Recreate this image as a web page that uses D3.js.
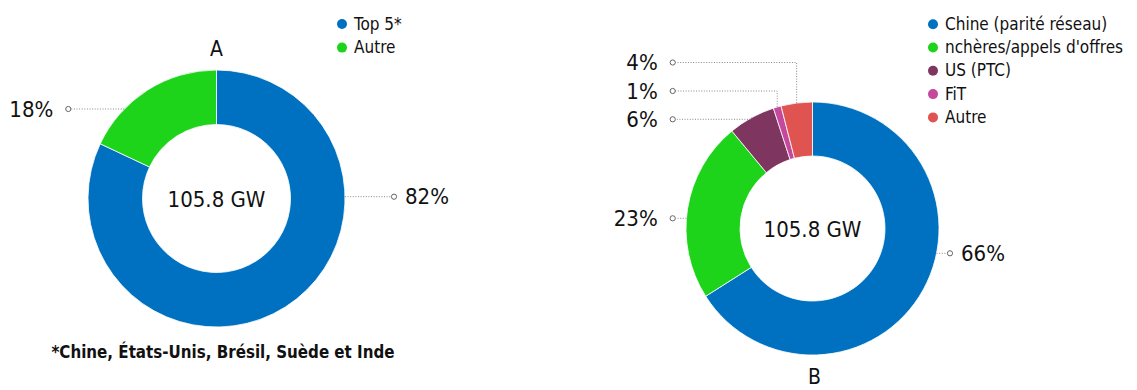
<!DOCTYPE html>
<html>
<head>
<meta charset="utf-8">
<script src="https://cdn.jsdelivr.net/npm/d3@7"></script>
<style>
  html, body { margin: 0; padding: 0; background: #fff; }
  svg { display: block; }
  text { font-family: "DejaVu Sans Condensed", "DejaVu Sans", sans-serif; font-stretch: condensed; fill: #111; }
</style>
</head>
<body>
<svg id="chart" width="1137" height="390"></svg>
<script>
// Donut A: share of capacity in the top-5 markets
const categoriesA = ["Top 5*", "Autre"];
const valuesA = [82, 18];
const colorsA = ["#0070C0", "#1ED41A"];

// Donut B: breakdown by support mechanism
const categoriesB = ["Chine (parité réseau)", "nchères/appels d'offres", "US (PTC)", "FiT", "Autre"];
const valuesB = [66, 23, 6, 1, 4];
const colorsB = ["#0070C0", "#1ED41A", "#7E3660", "#C4489C", "#DF5450"];

const totalLabel = "105.8 GW";
const titleA = "A";
const titleB = "B";
const footnoteA = "*Chine, États-Unis, Brésil, Suède et Inde";

// Layout of each donut and its callouts (offsets from the donut centre)
const layoutA = {
  cx: 216.5, cy: 198.5, outer: 128.5, inner: 74,
  title: { dx: 0, y: 56 },
  legend: { x: 342, y: 24, step: 23.6 },
  callouts: [
    { side: "right", mode: "edge", dx: 177.5, dy: -1.8 },
    { side: "left",  mode: "edge", dx: -148.2, dy: -89.5 }
  ]
};
const layoutB = {
  cx: 812.5, cy: 228.5, outer: 126.5, inner: 72.5,
  title: { dx: 2, y: 384 },
  legend: { x: 933, y: 24.2, step: 23.3 },
  callouts: [
    { side: "right", mode: "edge",  dx: 137.5, dy: 24.8 },
    { side: "left",  mode: "edge",  dx: -139.8, dy: -10.2 },
    { side: "left",  mode: "elbow", dx: -139.8, dy: -109.2 },
    { side: "left",  mode: "elbow", dx: -139.8, dy: -137.5 },
    { side: "left",  mode: "elbow", dx: -139.8, dy: -166 }
  ]
};

const svg = d3.select("#chart");

function drawDonut(categories, values, colors, layout, title) {
  const g = svg.append("g").attr("transform", `translate(${layout.cx},${layout.cy})`);

  const pie = d3.pie().sort(null).value(d => d)
    .startAngle(0).endAngle(2 * Math.PI);
  const arcs = pie(values);

  const arc = d3.arc().innerRadius(layout.inner).outerRadius(layout.outer);

  g.selectAll("path.slice")
    .data(arcs)
    .join("path")
    .attr("class", "slice")
    .attr("d", arc)
    .attr("fill", (d, i) => colors[i])
    .attr("stroke", "#fff")
    .attr("stroke-width", 0.8);

  // Total in the hole
  g.append("text")
    .attr("text-anchor", "middle")
    .attr("y", 8)
    .style("font-size", "22px")
    .text(totalLabel);

  // Callouts: dotted leader, small ring and percentage
  const R = layout.outer;
  arcs.forEach((a, i) => {
    const c = layout.callouts[i];
    const mid = (a.startAngle + a.endAngle) / 2;
    const ringR = 2.6;
    const ringX = c.dx;
    const ringY = c.dy;
    const endX = c.side === "right" ? ringX - ringR : ringX + ringR;
    let path;
    if (c.mode === "edge") {
      const ex = Math.sqrt(Math.max(R * R - ringY * ringY, 0)) * (c.side === "right" ? 1 : -1);
      path = `M${ex},${ringY}H${endX}`;
    } else {
      const ax = R * Math.sin(mid);
      const ay = -R * Math.cos(mid);
      path = `M${ax},${ay}V${ringY}H${endX}`;
    }
    g.append("path")
      .attr("d", path)
      .attr("fill", "none")
      .attr("stroke", "#8a8a8a")
      .attr("stroke-width", 1)
      .attr("stroke-dasharray", "1,1.6");
    g.append("circle")
      .attr("cx", ringX).attr("cy", ringY).attr("r", ringR)
      .attr("fill", "#fff")
      .attr("stroke", "#666")
      .attr("stroke-width", 1);
    g.append("text")
      .attr("x", c.side === "right" ? ringX + 11 : ringX - 15)
      .attr("y", ringY + 7.6)
      .attr("text-anchor", c.side === "right" ? "start" : "end")
      .style("font-size", "22px")
      .text(values[i] + "%");
  });

  // Title
  svg.append("text")
    .attr("x", layout.cx + layout.title.dx)
    .attr("y", layout.title.y)
    .attr("text-anchor", "middle")
    .style("font-size", "21px")
    .text(title);

  // Legend
  const lg = svg.append("g").attr("transform", `translate(${layout.legend.x},${layout.legend.y})`);
  const items = lg.selectAll("g")
    .data(categories)
    .join("g")
    .attr("transform", (d, i) => `translate(0,${i * layout.legend.step})`);
  items.append("circle")
    .attr("r", 5)
    .attr("fill", (d, i) => colors[i]);
  items.append("text")
    .attr("x", 12)
    .attr("y", 5.5)
    .style("font-size", "17px")
    .text(d => d);
}

drawDonut(categoriesA, valuesA, colorsA, layoutA, titleA);
drawDonut(categoriesB, valuesB, colorsB, layoutB, titleB);

svg.append("text")
  .attr("x", 223)
  .attr("y", 358)
  .attr("text-anchor", "middle")
  .style("font-size", "16.8px")
  .style("font-weight", "bold")
  .text(footnoteA);
</script>
</body>
</html>
